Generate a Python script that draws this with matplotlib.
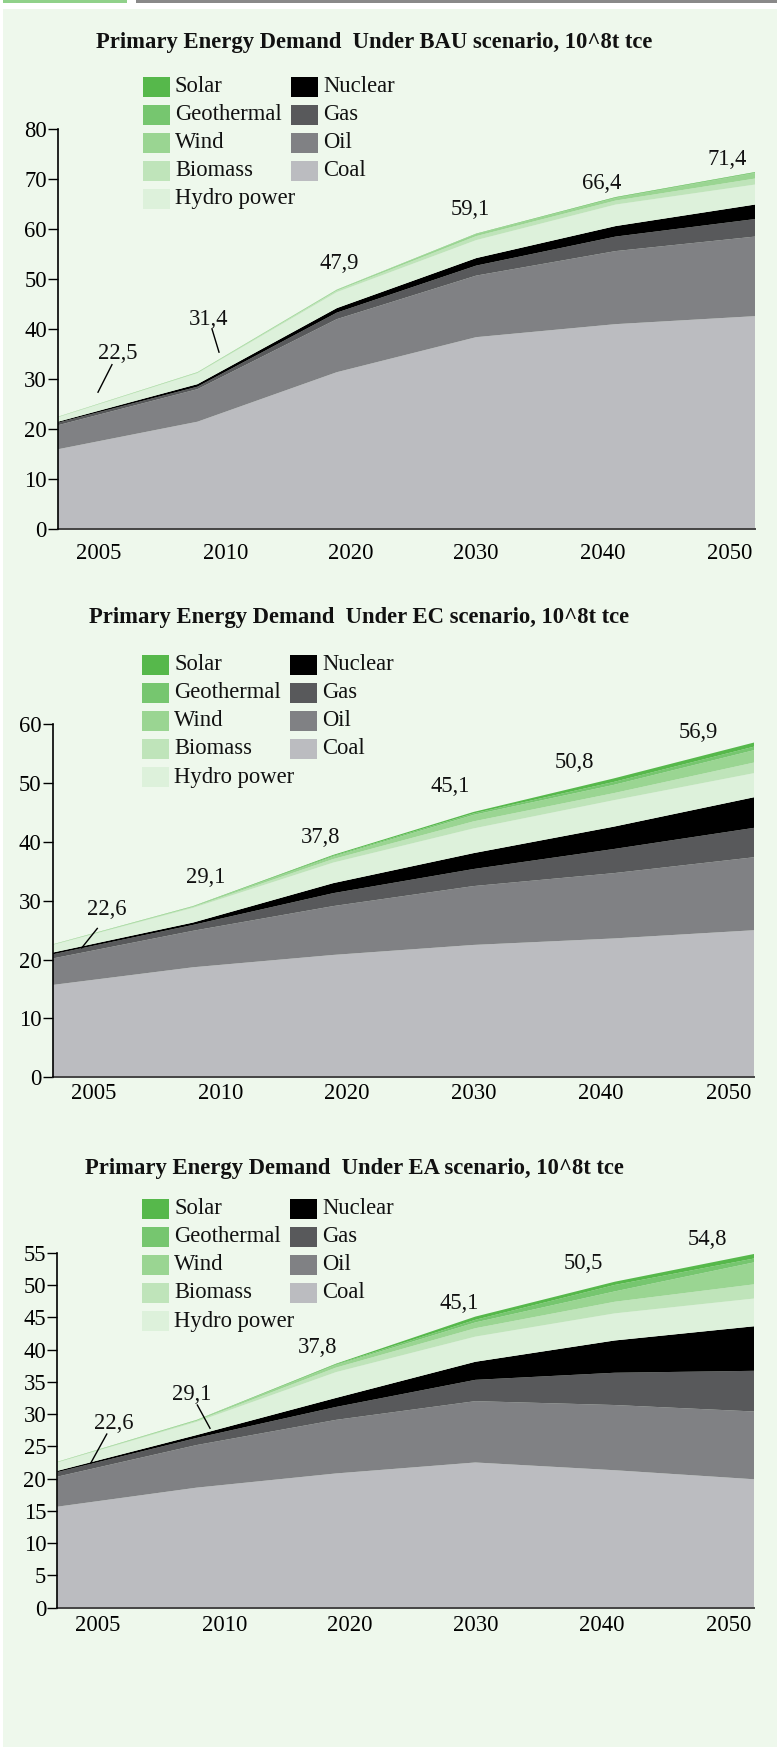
import numpy as np
import matplotlib
matplotlib.use('Agg')
import matplotlib.pyplot as plt
from matplotlib.patches import Rectangle

plt.rcParams['font.family'] = ['Liberation Serif', 'DejaVu Serif']

W, H = 777, 1747

years = ['2005', '2010', '2020', '2030', '2040', '2050']
sources = ['Coal', 'Oil', 'Gas', 'Nuclear', 'Hydro power', 'Biomass', 'Wind', 'Geothermal', 'Solar']
colors = ['#bbbcc0', '#808184', '#58595b', '#000000', '#ddf1db', '#bfe4ba', '#9ad592', '#76c66f', '#56b84b']

# BAU scenario, 10^8 t tce (bottom -> top)
bau_coal = [16.0, 21.5, 31.4, 38.4, 41.0, 42.6]
bau_oil = [4.8, 6.5, 10.6, 12.3, 14.6, 15.9]
bau_gas = [0.5, 0.5, 1.3, 2.0, 2.9, 3.5]
bau_nuclear = [0.2, 0.5, 0.9, 1.5, 2.1, 2.9]
bau_hydro = [0.9, 2.2, 3.2, 3.6, 4.3, 4.0]
bau_biomass = [0.05, 0.1, 0.3, 0.8, 0.8, 1.2]
bau_wind = [0.03, 0.08, 0.15, 0.4, 0.5, 1.1]
bau_geo = [0.01, 0.01, 0.03, 0.05, 0.1, 0.1]
bau_solar = [0.01, 0.01, 0.02, 0.05, 0.1, 0.1]
bau_totals = ['22,5', '31,4', '47,9', '59,1', '66,4', '71,4']

# EC scenario
ec_coal = [15.7, 18.7, 20.8, 22.5, 23.6, 25.0]
ec_oil = [4.5, 6.2, 8.3, 10.0, 11.1, 12.4]
ec_gas = [0.7, 1.0, 2.2, 2.9, 4.1, 5.0]
ec_nuclear = [0.3, 0.4, 1.7, 2.7, 3.8, 5.2]
ec_hydro = [1.3, 2.5, 3.5, 4.2, 4.5, 4.1]
ec_biomass = [0.05, 0.15, 0.6, 1.2, 1.2, 1.8]
ec_wind = [0.03, 0.1, 0.4, 1.1, 1.4, 2.1]
ec_geo = [0.01, 0.02, 0.15, 0.25, 0.5, 0.6]
ec_solar = [0.01, 0.03, 0.15, 0.25, 0.6, 0.7]
ec_totals = ['22,6', '29,1', '37,8', '45,1', '50,8', '56,9']

# EA scenario
ea_coal = [15.65, 18.6, 20.8, 22.5, 21.3, 19.9]
ea_oil = [4.65, 6.6, 8.3, 9.5, 10.1, 10.5]
ea_gas = [0.7, 1.1, 2.0, 3.3, 5.0, 6.3]
ea_nuclear = [0.2, 0.45, 1.4, 2.8, 5.0, 6.9]
ea_hydro = [1.3, 2.05, 4.0, 3.9, 4.2, 4.3]
ea_biomass = [0.05, 0.15, 0.7, 1.3, 1.8, 2.2]
ea_wind = [0.03, 0.1, 0.4, 0.9, 1.6, 3.4]
ea_geo = [0.01, 0.02, 0.1, 0.4, 1.0, 0.6]
ea_solar = [0.01, 0.03, 0.1, 0.5, 0.5, 0.7]
ea_totals = ['22,6', '29,1', '37,8', '45,1', '50,5', '54,8']

legend_col1 = ['Solar', 'Geothermal', 'Wind', 'Biomass', 'Hydro power']
legend_col2 = ['Nuclear', 'Gas', 'Oil', 'Coal']
cmap = dict(zip(sources, colors))

tick_pos = [0.29, 1.2, 2.1, 3.0, 3.91, 4.82]

charts = [
    dict(title='Primary Energy Demand  Under BAU scenario, 10^8t tce',
         data=[bau_coal, bau_oil, bau_gas, bau_nuclear, bau_hydro, bau_biomass, bau_wind, bau_geo, bau_solar],
         totals=bau_totals, ymax=80, ystep=10, xpad=10,
         box=(58, 129, 755, 529.3), title_xy=(96, 48.3), leg_xy=(143, 86.7),
         label_xy=[(0.43, 35.2), (1.083, 42.0), (2.02, 53.2), (2.955, 64.0), (3.897, 69.2), (4.8, 74.0)],
         leaders=[((0.387, 32.9), (0.287, 27.4)), ((1.105, 40.0), (1.155, 35.4))]),
    dict(title='Primary Energy Demand  Under EC scenario, 10^8t tce',
         data=[ec_coal, ec_oil, ec_gas, ec_nuclear, ec_hydro, ec_biomass, ec_wind, ec_geo, ec_solar],
         totals=ec_totals, ymax=60, ystep=10, xpad=4,
         box=(52.7, 724.3, 754, 1077.3), title_xy=(89, 623.3), leg_xy=(142, 665),
         label_xy=[(0.387, 28.6), (1.093, 33.9), (1.912, 40.7), (2.832, 49.4), (3.723, 53.5), (4.6, 58.6)],
         leaders=[((0.318, 25.3), (0.207, 22.0))]),
    dict(title='Primary Energy Demand  Under EA scenario, 10^8t tce',
         data=[ea_coal, ea_oil, ea_gas, ea_nuclear, ea_hydro, ea_biomass, ea_wind, ea_geo, ea_solar],
         totals=ea_totals, ymax=55, ystep=5, xpad=5,
         box=(57.3, 1252.7, 754, 1607.7), title_xy=(85, 1174.3), leg_xy=(142, 1209),
         label_xy=[(0.407, 28.6), (0.965, 33.1), (1.867, 40.3), (2.884, 47.2), (3.776, 53.4), (4.666, 57.0)],
         leaders=[((0.355, 26.9), (0.24, 22.4)), ((1.005, 31.4), (1.096, 27.8))]),
]


def fx(x):
    return x / W


def fy(y):
    return 1 - y / H


fig = plt.figure(figsize=(W / 100, H / 100), dpi=100, facecolor='white')

# background panel and top strip
fig.patches.append(Rectangle((fx(3), 0), 1 - fx(3), fy(9.3), transform=fig.transFigure,
                             facecolor='#eef8ec', edgecolor='none', zorder=-5))
fig.patches.append(Rectangle((fx(3), fy(2.7)), fx(124), fy(0) - fy(2.7), transform=fig.transFigure,
                             facecolor='#90d18a', edgecolor='none', zorder=-5))
fig.patches.append(Rectangle((fx(136), fy(2.7)), 1 - fx(136), fy(0) - fy(2.7), transform=fig.transFigure,
                             facecolor='#898989', edgecolor='none', zorder=-5))

FS = 16.3

for ch in charts:
    x0, y0, x1, y1 = ch['box']
    ax = fig.add_axes([fx(x0), fy(y1), fx(x1) - fx(x0), fy(y0) - fy(y1)])
    ax.set_facecolor('none')
    x = np.arange(len(years))
    ax.stackplot(x, *ch['data'], colors=colors, linewidth=0, antialiased=True)
    ax.set_xlim(0, 5)
    ax.set_ylim(0, ch['ymax'])
    ax.set_yticks(np.arange(0, ch['ymax'] + 1, ch['ystep']))
    ax.set_xticks(tick_pos)
    ax.set_xticklabels(years)
    ax.tick_params(axis='x', length=0, pad=ch['xpad'], labelsize=FS)
    ax.tick_params(axis='y', length=7, width=1, pad=1, labelsize=FS, direction='out')
    for s in ['top', 'right']:
        ax.spines[s].set_visible(False)
    ax.spines['left'].set_linewidth(1.2)
    ax.spines['left'].set_color('black')
    ax.spines['bottom'].set_linewidth(1.4)
    ax.spines['bottom'].set_color('#444444')
    ax.spines['left'].set_zorder(5)

    for (lx, ly), txt in zip(ch['label_xy'], ch['totals']):
        ax.text(lx, ly, txt, ha='center', va='center', fontsize=FS, color='#111111')
    for (a, b) in ch['leaders']:
        ax.plot([a[0], b[0]], [a[1], b[1]], color='black', lw=1)

    tx, ty = ch['title_xy']
    fig.text(fx(tx), fy(ty), ch['title'], ha='left', va='baseline',
             fontsize=FS, fontweight='bold', color='#111111')

    lx, ly = ch['leg_xy']
    for col, names in enumerate([legend_col1, legend_col2]):
        px = lx + col * 148
        for k, name in enumerate(names):
            cy = ly + k * 28
            fig.patches.append(Rectangle((fx(px), fy(cy + 10)), fx(27), fy(0) - fy(20),
                                         transform=fig.transFigure, facecolor=cmap[name],
                                         edgecolor='none', zorder=2))
            fig.text(fx(px + 32), fy(cy), name, ha='left', va='center',
                     fontsize=FS, color='#111111')

fig.savefig('out.png', dpi=100, facecolor='white')
